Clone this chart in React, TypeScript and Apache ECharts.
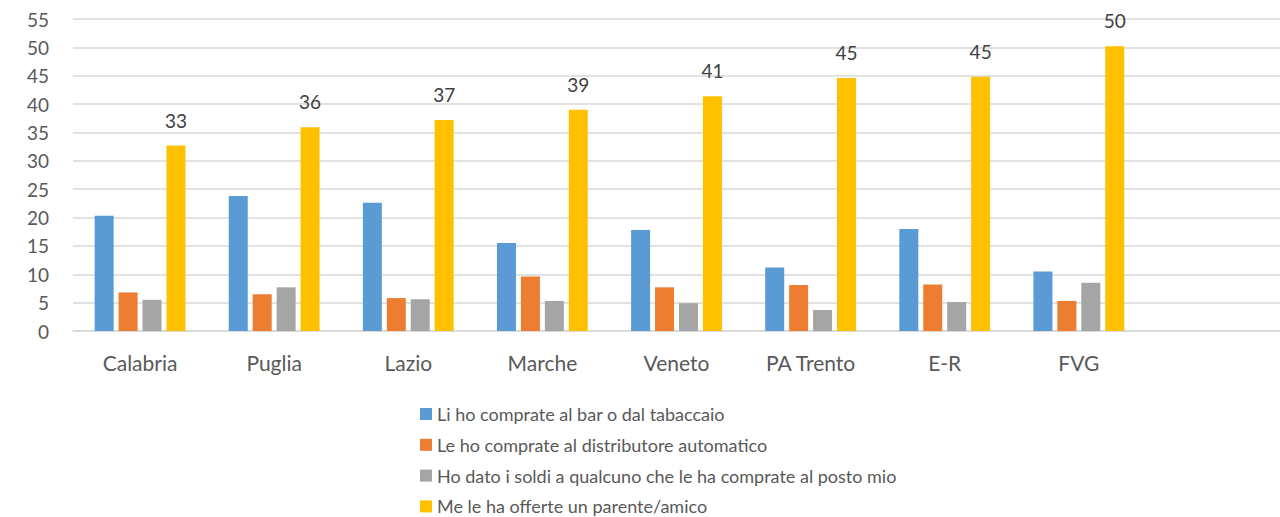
import React, { useEffect, useRef } from "react";
import * as echarts from "echarts";

const categories = ["Calabria", "Puglia", "Lazio", "Marche", "Veneto", "PA Trento", "E-R", "FVG", ""];
const seriesNames = [
  "Li ho comprate al bar o dal tabaccaio",
  "Le ho comprate al distributore automatico",
  "Ho dato i soldi a qualcuno che le ha comprate al posto mio",
  "Me le ha offerte un parente/amico",
];
const barTabaccaio = [20.3, 23.8, 22.6, 15.5, 17.8, 11.2, 18.0, 10.5];
const distributore = [6.8, 6.5, 5.8, 9.6, 7.7, 8.1, 8.2, 5.3];
const qualcuno = [5.5, 7.7, 5.6, 5.3, 4.9, 3.7, 5.1, 8.5];
const parenteAmico = [32.7, 35.9, 37.2, 39.0, 41.4, 44.6, 44.8, 50.2];
const yTicks = { min: 0, max: 55, interval: 5 };
const colors = ["#5B9BD5", "#ED7D31", "#A5A5A5", "#FFC000"];

const FONT = "Lato, 'Open Sans', sans-serif";

export default function App() {
  const ref = useRef<HTMLDivElement>(null);
  useEffect(() => {
    document.body.style.margin = "0";
    if (!ref.current) return;
    const chart = echarts.init(ref.current, undefined, { renderer: "svg" });
    const values = [barTabaccaio, distributore, qualcuno, parenteAmico];
    chart.setOption({
      animation: false,
      textStyle: { fontFamily: FONT },
      grid: { left: 73, top: 19, bottom: 186, width: 1211, containLabel: false },
      legend: {
        orient: "vertical",
        left: 420,
        top: 404,
        height: 120,
        padding: 0,
        itemWidth: 12,
        itemHeight: 12,
        itemGap: 10.8,
        icon: "rect",
        data: seriesNames,
        textStyle: { fontFamily: FONT, fontSize: 18, color: "#595959", lineHeight: 20 },
      },
      xAxis: {
        type: "category",
        data: categories,
        axisLine: { lineStyle: { color: "#d9d9d9", width: 1.5 } },
        axisTick: { show: false },
        axisLabel: { fontFamily: FONT, fontSize: 21, color: "#595959", margin: 21 },
      },
      yAxis: {
        type: "value",
        min: yTicks.min,
        max: yTicks.max,
        interval: yTicks.interval,
        axisLine: { show: false },
        axisTick: { show: false },
        splitLine: { lineStyle: { color: "#d9d9d9", width: 1.5 } },
        axisLabel: { fontFamily: FONT, fontSize: 19, color: "#595959", margin: 24 },
      },
      series: values.map((d, i) => ({
        name: seriesNames[i],
        type: "bar",
        data: d,
        barWidth: 19,
        barGap: "26%",
        itemStyle: { color: colors[i] },
        label:
          i === 3
            ? {
                show: true,
                position: "top",
                distance: 16,
                fontFamily: FONT,
                fontSize: 19,
                color: "#404040",
                formatter: (p: any) => String(Math.round(p.value)),
              }
            : { show: false },
      })),
    });
    return () => chart.dispose();
  }, []);
  return <div ref={ref} style={{ width: 1280, height: 517 }} />;
}
